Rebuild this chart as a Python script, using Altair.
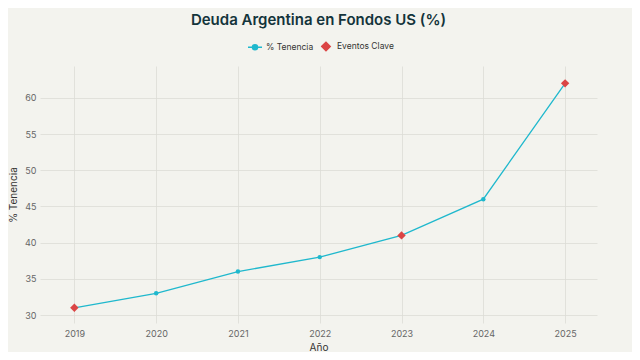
import altair as alt
import pandas as pd

years = [2019, 2020, 2021, 2022, 2023, 2024, 2025]
tenencia = [31, 33, 36, 38, 41, 46, 62]
event_years = [2019, 2023, 2025]

series_names = ["% Tenencia", "Eventos Clave"]
series_colors = ["#1FB8CD", "#DB4545"]

df = pd.DataFrame({"Año": years, "Tenencia": tenencia, "serie": series_names[0]})
ev = df[df["Año"].isin(event_years)].copy()
ev["serie"] = series_names[1]

FONT = "Inter"
xscale = alt.Scale(domain=[2018.58, 2025.39], nice=False, zero=False)
yscale = alt.Scale(domain=[28.9, 64.4], nice=False, zero=False)

xenc = alt.X("Año:Q", scale=xscale, title="Año",
             axis=alt.Axis(values=years, format="d", grid=True, ticks=False, domain=False,
                           labelPadding=6, titlePadding=4))
yenc = alt.Y("Tenencia:Q", scale=yscale, title="% Tenencia",
             axis=alt.Axis(values=[30, 35, 40, 45, 50, 55, 60], grid=True, ticks=False,
                           domain=False, labelPadding=4, titlePadding=6))

line_path = "M-1,0H1M0.36,0A0.36,0.36 0 1,1 -0.36,0A0.36,0.36 0 1,1 0.36,0Z"
diamond_path = "M-0.6,0L0,-0.6L0.6,0L0,0.6Z"

color = alt.Color("serie:N", scale=alt.Scale(domain=series_names, range=series_colors),
                  title=None,
                  legend=alt.Legend(orient="none", direction="horizontal", legendX=207, legendY=-28,
                                    labelFontSize=8.5, labelColor="#333", symbolSize=196,
                                    symbolStrokeWidth=1.5, columnPadding=4, labelOffset=3))
shape = alt.Shape("serie:N", scale=alt.Scale(domain=series_names, range=[line_path, diamond_path]),
                  title=None)

line = alt.Chart(df).mark_line(strokeWidth=1.3).encode(x=xenc, y=yenc, color=color)
dots = alt.Chart(df).mark_circle(size=20, opacity=1).encode(x=xenc, y=yenc, color=alt.value("#1FB8CD"))
diamonds = alt.Chart(ev).mark_point(filled=True, size=196, opacity=1, strokeWidth=0).encode(
    x=xenc, y=yenc, color=color, shape=shape)

chart = alt.layer(line, dots, diamonds).properties(
    width=557, height=257,
    autosize=alt.AutoSizeParams(type="none"),
    padding={"left": 32, "top": 58, "right": 35, "bottom": 29},
    background="#F3F3EE",
    title=alt.TitleParams("Deuda Argentina en Fondos US (%)", fontSize=15, fontWeight=600,
                          color="#13343B", font=FONT, anchor="middle", offset=10),
).configure_view(stroke=None).configure_axis(
    labelFont=FONT, titleFont=FONT, labelFontSize=9, labelColor="#666",
    titleFontSize=10, titleColor="#333", titleFontWeight="normal",
    gridColor="#DCDCD6", gridWidth=0.8,
).configure_legend(labelFont=FONT)

chart.save("out.html", embed_options={"renderer": "svg", "actions": False})
